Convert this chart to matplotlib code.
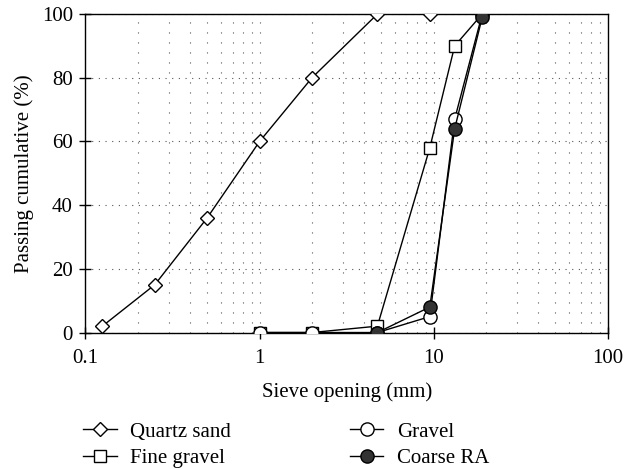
import matplotlib.pyplot as plt
from matplotlib.ticker import FixedLocator, NullFormatter

plt.rcParams['font.family'] = ['Liberation Serif', 'DejaVu Serif']
plt.rcParams['font.size'] = 15

# sieve sizes (mm) and cumulative passing (%)
sand_x = [0.125, 0.25, 0.5, 1, 2, 4.75, 9.5]
sand_y = [2, 15, 36, 60, 80, 100, 100]

fine_x = [1, 2, 4.75, 9.5, 13.2, 19]
fine_y = [0, 0, 2, 58, 90, 100]

gravel_x = [1, 2, 4.75, 9.5, 13.2, 19]
gravel_y = [0, 0, 0, 5, 67, 100]

ra_x = [4.75, 9.5, 13.2, 19]
ra_y = [0, 8, 64, 99]

fig = plt.figure(figsize=(6.24, 4.69), dpi=100)
ax = fig.add_axes([0.137, 0.291, 0.837, 0.679])

kw = dict(color='black', linewidth=1, markeredgecolor='black', markeredgewidth=1, zorder=3)
ax.plot(sand_x, sand_y, marker='D', markersize=7.5, markerfacecolor='white',
        label='Quartz sand', **kw)
ax.plot(fine_x, fine_y, marker='s', markersize=8.5, markerfacecolor='white',
        label='Fine gravel', **kw)
ax.plot(gravel_x, gravel_y, marker='o', markersize=9.5, markerfacecolor='white',
        label='Gravel', **kw)
ax.plot(ra_x, ra_y, marker='o', markersize=9.5, markerfacecolor='#333333',
        label='Coarse RA', **kw)

ax.set_xscale('log')
ax.set_xlim(0.1, 100)
ax.set_ylim(0, 100)
ax.set_xticks([0.1, 1, 10, 100])
ax.set_xticklabels(['0.1', '1', '10', '100'])
minor = [m * 10.0 ** e for e in (-1, 0, 1) for m in range(2, 10)]
ax.xaxis.set_minor_locator(FixedLocator(minor))
ax.xaxis.set_minor_formatter(NullFormatter())
ax.tick_params(axis='x', which='minor', length=0)
ax.set_yticks([0, 20, 40, 60, 80, 100])
ax.tick_params(axis='both', which='major', direction='inout', length=8, width=1,
               labelsize=15, pad=5)
ax.tick_params(axis='x', which='major', pad=8)

ax.grid(True, which='both', axis='x', color='#555555', linestyle=(0, (1, 8)), linewidth=0.8)
ax.grid(True, which='major', axis='y', color='#555555', linestyle=(0, (1, 5)), linewidth=0.8)

for s in ax.spines.values():
    s.set_linewidth(1)

ax.set_xlabel('Sieve opening (mm)', labelpad=10)
ax.set_ylabel('Passing cumulative (%)', labelpad=6)

ax.legend(loc='upper left', bbox_to_anchor=(-0.02, -0.255), ncol=2, frameon=False,
          handlelength=1.6, handletextpad=0.65, columnspacing=5.7, labelspacing=0.32,
          borderaxespad=0)

fig.savefig('out.png', dpi=100)
